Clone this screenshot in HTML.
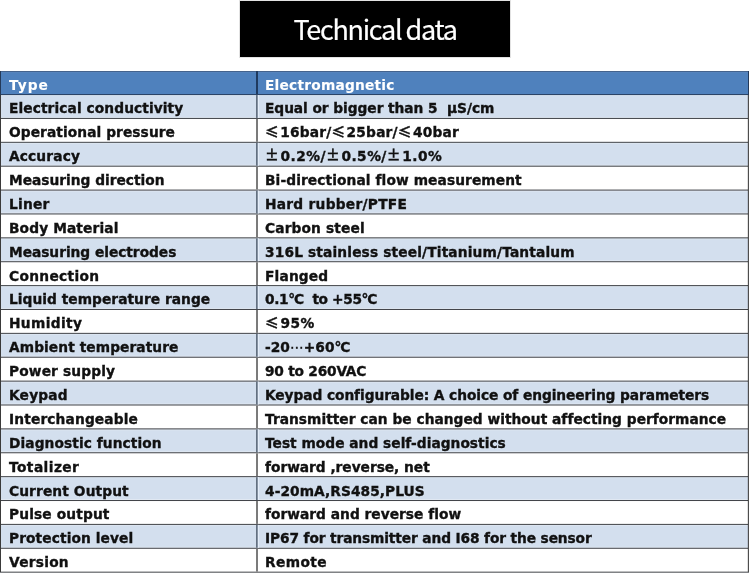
<!DOCTYPE html>
<html><head><meta charset="utf-8"><title>Technical data</title>
<style>
html,body{margin:0;padding:0;background:#fff;}
body{width:750px;height:573px;overflow:hidden;position:relative;}
.tb{position:absolute;left:239px;top:0;width:270px;height:56px;border:1px solid #e2e2e2;background:#000;}
.tt{position:absolute;left:0;top:0;width:270px;height:56px;line-height:56px;text-align:center;color:#fff;font-family:"Noto Sans CJK SC","Liberation Sans",sans-serif;font-size:27px;font-weight:400;letter-spacing:-1.3px;word-spacing:-0.5px;-webkit-text-stroke:0.2px #fff;will-change:transform;}
svg{position:absolute;left:0;top:0;}
.t{position:absolute;white-space:nowrap;font-family:"DejaVu Sans","Noto Sans CJK SC",sans-serif;font-weight:bold;font-size:13.75px;line-height:20px;height:20px;color:#111;will-change:transform;-webkit-text-stroke:0.35px currentColor;}
.w{color:#fff;-webkit-text-stroke:0.1px #fff;}
.c{font-family:"Noto Sans CJK SC",sans-serif;font-weight:bold;line-height:0;display:inline-block;position:relative;top:0.1px;margin-right:1.3px;}
.p{top:-1px;}
.g{letter-spacing:-1.2px !important;}
.d{font-family:"DejaVu Sans",sans-serif;font-weight:normal;line-height:0;}
</style></head><body>
<div class="tb"><div class="tt">Technical data</div></div>
<svg width="750" height="573" viewBox="0 0 750 573">

<rect x="0" y="72.05" width="749" height="22.01" fill="#4f81bd"/>
<rect x="0" y="95.06" width="749" height="22.88" fill="#d3dfee"/>
<rect x="0" y="95.06" width="749" height="1.00" fill="#dde6f1"/>
<rect x="0" y="116.94" width="749" height="1.00" fill="#e0e8f2"/>
<rect x="0" y="142.82" width="749" height="22.88" fill="#d3dfee"/>
<rect x="0" y="142.82" width="749" height="1.00" fill="#dde6f1"/>
<rect x="0" y="164.70" width="749" height="1.00" fill="#e0e8f2"/>
<rect x="0" y="190.58" width="749" height="22.88" fill="#d3dfee"/>
<rect x="0" y="190.58" width="749" height="1.00" fill="#dde6f1"/>
<rect x="0" y="212.46" width="749" height="1.00" fill="#e0e8f2"/>
<rect x="0" y="238.34" width="749" height="22.88" fill="#d3dfee"/>
<rect x="0" y="238.34" width="749" height="1.00" fill="#dde6f1"/>
<rect x="0" y="260.22" width="749" height="1.00" fill="#e0e8f2"/>
<rect x="0" y="286.10" width="749" height="22.88" fill="#d3dfee"/>
<rect x="0" y="286.10" width="749" height="1.00" fill="#dde6f1"/>
<rect x="0" y="307.98" width="749" height="1.00" fill="#e0e8f2"/>
<rect x="0" y="333.86" width="749" height="22.88" fill="#d3dfee"/>
<rect x="0" y="333.86" width="749" height="1.00" fill="#dde6f1"/>
<rect x="0" y="355.74" width="749" height="1.00" fill="#e0e8f2"/>
<rect x="0" y="381.62" width="749" height="22.88" fill="#d3dfee"/>
<rect x="0" y="381.62" width="749" height="1.00" fill="#dde6f1"/>
<rect x="0" y="403.50" width="749" height="1.00" fill="#e0e8f2"/>
<rect x="0" y="429.38" width="749" height="22.88" fill="#d3dfee"/>
<rect x="0" y="429.38" width="749" height="1.00" fill="#dde6f1"/>
<rect x="0" y="451.26" width="749" height="1.00" fill="#e0e8f2"/>
<rect x="0" y="477.14" width="749" height="22.88" fill="#d3dfee"/>
<rect x="0" y="477.14" width="749" height="1.00" fill="#dde6f1"/>
<rect x="0" y="499.02" width="749" height="1.00" fill="#e0e8f2"/>
<rect x="0" y="524.90" width="749" height="22.88" fill="#d3dfee"/>
<rect x="0" y="524.90" width="749" height="1.00" fill="#dde6f1"/>
<rect x="0" y="546.78" width="749" height="1.00" fill="#e0e8f2"/>
<rect x="0" y="71.05" width="749" height="1.00" fill="#3b5c88"/>
<rect x="0" y="94.06" width="749" height="1.00" fill="#1f3a5f"/>
<rect x="0" y="117.94" width="749" height="1.00" fill="#404348"/>
<rect x="0" y="141.82" width="749" height="1.00" fill="#404348"/>
<rect x="0" y="165.70" width="749" height="1.00" fill="#404348"/>
<rect x="0" y="189.58" width="749" height="1.00" fill="#404348"/>
<rect x="0" y="213.46" width="749" height="1.00" fill="#404348"/>
<rect x="0" y="237.34" width="749" height="1.00" fill="#404348"/>
<rect x="0" y="261.22" width="749" height="1.00" fill="#404348"/>
<rect x="0" y="285.10" width="749" height="1.00" fill="#404348"/>
<rect x="0" y="308.98" width="749" height="1.00" fill="#404348"/>
<rect x="0" y="332.86" width="749" height="1.00" fill="#404348"/>
<rect x="0" y="356.74" width="749" height="1.00" fill="#404348"/>
<rect x="0" y="380.62" width="749" height="1.00" fill="#404348"/>
<rect x="0" y="404.50" width="749" height="1.00" fill="#404348"/>
<rect x="0" y="428.38" width="749" height="1.00" fill="#404348"/>
<rect x="0" y="452.26" width="749" height="1.00" fill="#404348"/>
<rect x="0" y="476.14" width="749" height="1.00" fill="#404348"/>
<rect x="0" y="500.02" width="749" height="1.00" fill="#404348"/>
<rect x="0" y="523.90" width="749" height="1.00" fill="#404348"/>
<rect x="0" y="547.78" width="749" height="1.00" fill="#404348"/>
<rect x="0" y="571.66" width="749" height="1.00" fill="#404348"/>
<rect x="0" y="95.06" width="1" height="476.60" fill="#3a3a3a" shape-rendering="crispEdges"/>
<rect x="748" y="95.06" width="1" height="476.60" fill="#4d4d4d" shape-rendering="crispEdges"/>
<rect x="747" y="95.06" width="1" height="476.60" fill="rgba(0,0,0,0.12)" shape-rendering="crispEdges"/>
<rect x="0" y="71.05" width="1" height="23.51" fill="#243a5a" shape-rendering="crispEdges"/>
<rect x="748" y="71.05" width="1" height="23.51" fill="#243a5a" shape-rendering="crispEdges"/>
<rect x="256" y="95.06" width="1" height="22.88" fill="#637080"/>
<rect x="257" y="95.06" width="1" height="22.88" fill="#8592a2"/>
<rect x="258" y="95.06" width="1" height="22.88" fill="#e4edf8"/>
<rect x="256" y="118.94" width="2" height="22.88" fill="#7b7b7b"/>
<rect x="256" y="142.82" width="1" height="22.88" fill="#637080"/>
<rect x="257" y="142.82" width="1" height="22.88" fill="#8592a2"/>
<rect x="258" y="142.82" width="1" height="22.88" fill="#e4edf8"/>
<rect x="256" y="166.70" width="2" height="22.88" fill="#7b7b7b"/>
<rect x="256" y="190.58" width="1" height="22.88" fill="#637080"/>
<rect x="257" y="190.58" width="1" height="22.88" fill="#8592a2"/>
<rect x="258" y="190.58" width="1" height="22.88" fill="#e4edf8"/>
<rect x="256" y="214.46" width="2" height="22.88" fill="#7b7b7b"/>
<rect x="256" y="238.34" width="1" height="22.88" fill="#637080"/>
<rect x="257" y="238.34" width="1" height="22.88" fill="#8592a2"/>
<rect x="258" y="238.34" width="1" height="22.88" fill="#e4edf8"/>
<rect x="256" y="262.22" width="2" height="22.88" fill="#7b7b7b"/>
<rect x="256" y="286.10" width="1" height="22.88" fill="#637080"/>
<rect x="257" y="286.10" width="1" height="22.88" fill="#8592a2"/>
<rect x="258" y="286.10" width="1" height="22.88" fill="#e4edf8"/>
<rect x="256" y="309.98" width="2" height="22.88" fill="#7b7b7b"/>
<rect x="256" y="333.86" width="1" height="22.88" fill="#637080"/>
<rect x="257" y="333.86" width="1" height="22.88" fill="#8592a2"/>
<rect x="258" y="333.86" width="1" height="22.88" fill="#e4edf8"/>
<rect x="256" y="357.74" width="2" height="22.88" fill="#7b7b7b"/>
<rect x="256" y="381.62" width="1" height="22.88" fill="#637080"/>
<rect x="257" y="381.62" width="1" height="22.88" fill="#8592a2"/>
<rect x="258" y="381.62" width="1" height="22.88" fill="#e4edf8"/>
<rect x="256" y="405.50" width="2" height="22.88" fill="#7b7b7b"/>
<rect x="256" y="429.38" width="1" height="22.88" fill="#637080"/>
<rect x="257" y="429.38" width="1" height="22.88" fill="#8592a2"/>
<rect x="258" y="429.38" width="1" height="22.88" fill="#e4edf8"/>
<rect x="256" y="453.26" width="2" height="22.88" fill="#7b7b7b"/>
<rect x="256" y="477.14" width="1" height="22.88" fill="#637080"/>
<rect x="257" y="477.14" width="1" height="22.88" fill="#8592a2"/>
<rect x="258" y="477.14" width="1" height="22.88" fill="#e4edf8"/>
<rect x="256" y="501.02" width="2" height="22.88" fill="#7b7b7b"/>
<rect x="256" y="524.90" width="1" height="22.88" fill="#637080"/>
<rect x="257" y="524.90" width="1" height="22.88" fill="#8592a2"/>
<rect x="258" y="524.90" width="1" height="22.88" fill="#e4edf8"/>
<rect x="256" y="548.78" width="2" height="22.88" fill="#7b7b7b"/>
<rect x="256" y="71.05" width="2" height="23.01" fill="#1f3a5f"/>
</svg>
<div class="t w" style="left:9px;top:75.14px;letter-spacing:1.000px">Type</div>
<div class="t w" style="left:265px;top:75.14px;letter-spacing:0.214px">Electromagnetic</div>
<div class="t" style="left:9px;top:98.33px;letter-spacing:0.091px">Electrical conductivity</div>
<div class="t" style="left:265px;top:98.33px;letter-spacing:-0.054px">Equal or bigger than 5&nbsp; μS/cm</div>
<div class="t" style="left:9px;top:122.22px;letter-spacing:0.079px">Operational pressure</div>
<div class="t" style="left:265px;top:122.22px;letter-spacing:0.180px"><span class="c">≤</span>16bar/<span class="c">≤</span>25bar/<span class="c">≤</span>40bar</div>
<div class="t" style="left:9px;top:146.11px;letter-spacing:0.143px">Accuracy</div>
<div class="t" style="left:265px;top:146.11px;letter-spacing:0.450px"><span class="c p">±</span>0.2%/<span class="c p">±</span>0.5%/<span class="c p">±</span>1.0%</div>
<div class="t" style="left:9px;top:170.00px;letter-spacing:-0.000px">Measuring direction</div>
<div class="t" style="left:265px;top:170.00px;letter-spacing:0.100px">Bi-directional flow measurement</div>
<div class="t" style="left:9px;top:193.89px;letter-spacing:0.250px">Liner</div>
<div class="t" style="left:265px;top:193.89px;letter-spacing:0.267px">Hard rubber/PTFE</div>
<div class="t" style="left:9px;top:217.78px;letter-spacing:0.125px">Body Material</div>
<div class="t" style="left:265px;top:217.78px;letter-spacing:0.136px">Carbon steel</div>
<div class="t" style="left:9px;top:241.67px;letter-spacing:-0.026px">Measuring electrodes</div>
<div class="t" style="left:265px;top:241.67px;letter-spacing:0.149px">316L stainless steel/Titanium/Tantalum</div>
<div class="t" style="left:9px;top:265.56px;letter-spacing:0.333px">Connection</div>
<div class="t" style="left:265px;top:265.56px;letter-spacing:0.167px">Flanged</div>
<div class="t" style="left:9px;top:289.45px;letter-spacing:0.043px">Liquid temperature range</div>
<div class="t" style="left:265px;top:289.45px;letter-spacing:-0.381px">0.1<span class='g'>°</span>C&nbsp; to +55<span class='g'>°</span>C</div>
<div class="t" style="left:9px;top:313.34px;letter-spacing:0.357px">Humidity</div>
<div class="t" style="left:265px;top:313.34px;letter-spacing:0.450px"><span class="c">≤</span>95%</div>
<div class="t" style="left:9px;top:337.23px;letter-spacing:0.083px">Ambient temperature</div>
<div class="t" style="left:265px;top:337.23px;letter-spacing:0.039px">-20<span class='d'>⋯</span>+60<span class='g'>°</span>C</div>
<div class="t" style="left:9px;top:361.12px;letter-spacing:0.136px">Power supply</div>
<div class="t" style="left:265px;top:361.12px;letter-spacing:-0.227px">90 to 260VAC</div>
<div class="t" style="left:9px;top:385.01px;letter-spacing:0.200px">Keypad</div>
<div class="t" style="left:265px;top:385.01px;letter-spacing:-0.074px">Keypad configurable: A choice of engineering parameters</div>
<div class="t" style="left:9px;top:408.90px;letter-spacing:0.143px">Interchangeable</div>
<div class="t" style="left:265px;top:408.90px;letter-spacing:0.027px">Transmitter can be changed without affecting performance</div>
<div class="t" style="left:9px;top:432.79px;letter-spacing:0.083px">Diagnostic function</div>
<div class="t" style="left:265px;top:432.79px;letter-spacing:0.017px">Test mode and self-diagnostics</div>
<div class="t" style="left:9px;top:456.68px;letter-spacing:0.437px">Totalizer</div>
<div class="t" style="left:265px;top:456.68px;letter-spacing:-0.025px">forward ,reverse, net</div>
<div class="t" style="left:9px;top:480.57px;letter-spacing:0.115px">Current Output</div>
<div class="t" style="left:265px;top:480.57px;letter-spacing:0.063px">4-20mA,RS485,PLUS</div>
<div class="t" style="left:9px;top:504.46px;letter-spacing:0.136px">Pulse output</div>
<div class="t" style="left:265px;top:504.46px;letter-spacing:0.022px">forward and reverse flow</div>
<div class="t" style="left:9px;top:528.35px;letter-spacing:0.100px">Protection level</div>
<div class="t" style="left:265px;top:528.35px;letter-spacing:-0.119px">IP67 for transmitter and I68 for the sensor</div>
<div class="t" style="left:9px;top:552.24px;letter-spacing:0.250px">Version</div>
<div class="t" style="left:265px;top:552.24px;letter-spacing:0.400px">Remote</div>
</body></html>
